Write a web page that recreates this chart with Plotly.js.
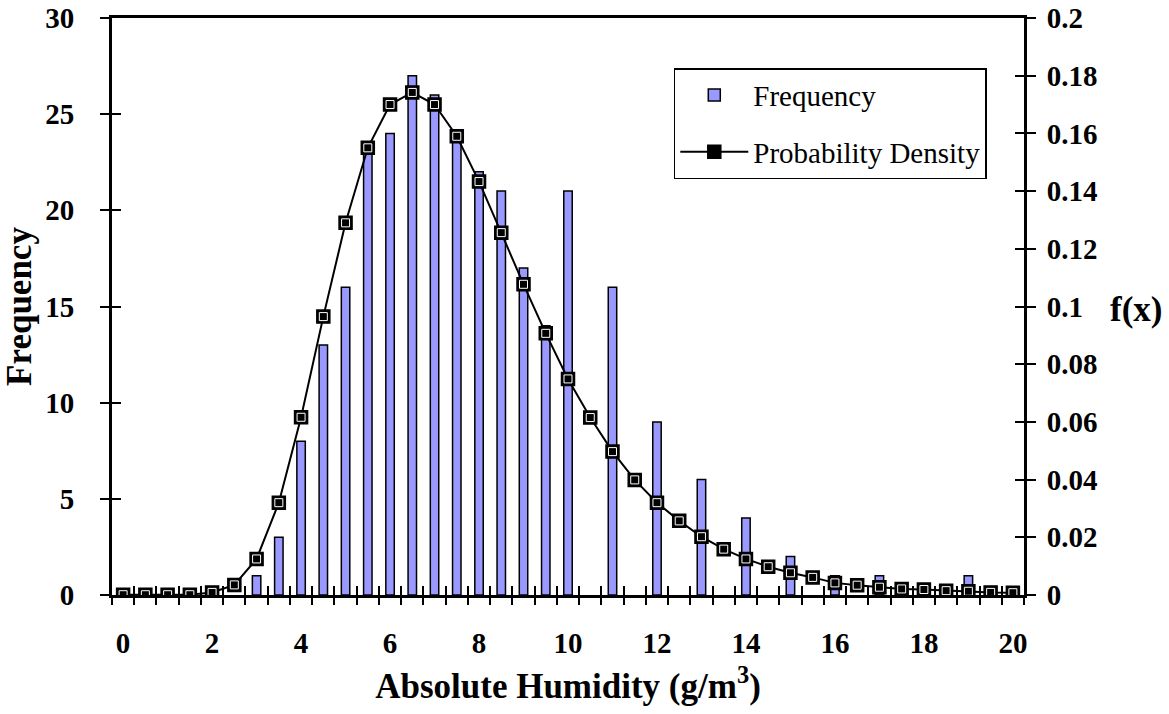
<!DOCTYPE html>
<html>
<head>
<meta charset="utf-8">
<script src="https://cdn.plot.ly/plotly-3.0.1.min.js"></script>
<style>html,body{margin:0;padding:0;background:#fff;}#chart{width:1169px;height:714px;}</style>
</head>
<body>
<div id="chart"></div>
<script>
// ---- data ----
const humidity = [0,0.5,1,1.5,2,2.5,3,3.5,4,4.5,5,5.5,6,6.5,7,7.5,8,8.5,9,9.5,10,10.5,11,11.5,12,12.5,13,13.5,14,14.5,15,15.5,16,16.5,17,17.5,18,18.5,19,19.5,20];
const frequency = [0,0,0,0,0,0,1,3,8,13,16,23,24,27,26,24,22,21,17,14,21,0,16,0,9,0,6,0,4,0,2,0,1,0,1,0,0,0,1,0,0];
const density = [0.0001,0.0001,0.0001,0.0001,0.0009,0.0035,0.0125,0.032,0.0616,0.0965,0.129,0.155,0.170,0.1742,0.170,0.159,0.1433,0.1256,0.1077,0.0907,0.0749,0.0615,0.0497,0.0399,0.032,0.0257,0.0202,0.0159,0.0125,0.0098,0.0077,0.0061,0.0042,0.0034,0.0027,0.0021,0.0019,0.0015,0.0013,0.0009,0.0008];
const xTickVals = [0,2,4,6,8,10,12,14,16,18,20];
const xTickText = ['0','2','4','6','8','10','12','14','16','18','20'];
const xBoundaryTicks = [-0.25,0.25,0.75,1.25,1.75,2.25,2.75,3.25,3.75,4.25,4.75,5.25,5.75,6.25,6.75,7.25,7.75,8.25,8.75,9.25,9.75,10.25,10.75,11.25,11.75,12.25,12.75,13.25,13.75,14.25,14.75,15.25,15.75,16.25,16.75,17.25,17.75,18.25,18.75,19.25,19.75,20.25];
const yLeftTickVals = [0,5,10,15,20,25,30];
const yLeftTickText = ['0','5','10','15','20','25','30'];
const yRightTickVals = [0,0.02,0.04,0.06,0.08,0.1,0.12,0.14,0.16,0.18,0.2];
const yRightTickText = ['0','0.02','0.04','0.06','0.08','0.1','0.12','0.14','0.16','0.18','0.2'];

const SERIF = '"Liberation Serif", "Times New Roman", serif';
const tickFont = {family: SERIF, size: 29, color: '#000', weight: 'bold'};
const titleFont = {family: SERIF, size: 35, color: '#000', weight: 'bold'};

const traces = [
  {
    type: 'bar', name: 'Frequency', x: humidity,
    // empty classes are left undrawn (no outline stub on the axis)
    y: frequency.map(v => v > 0 ? v : null),
    xaxis: 'x', yaxis: 'y', width: 0.19,
    marker: {color: '#9999FF', line: {color: '#000', width: 1.5}},
    legendgroup: 'a', hoverinfo: 'skip'
  },
  {
    type: 'scatter', mode: 'lines+markers', name: 'Probability Density',
    x: humidity, y: density, xaxis: 'x', yaxis: 'y2',
    line: {color: '#000', width: 2},
    marker: {symbol: 'square', size: 13, color: '#000', line: {color: '#000', width: 1.5}},
    legendgroup: 'b', hoverinfo: 'skip'
  },
  // white inner highlight of the square markers (also hosts the tick-only overlay axes x2/y4)
  {
    type: 'scatter', mode: 'markers', showlegend: false, hoverinfo: 'skip',
    x: humidity, y: density, xaxis: 'x2', yaxis: 'y4',
    marker: {symbol: 'square-open', size: 8, color: '#fff', line: {color: '#fff', width: 1}}
  },
  // invisible carrier so the tick-only overlay axes x3/y3 are drawn
  {
    type: 'scatter', mode: 'none', showlegend: false, hoverinfo: 'skip',
    x: humidity, y: frequency, xaxis: 'x3', yaxis: 'y3'
  }
];

const baseOverlay = {showgrid: false, zeroline: false, showline: false, showticklabels: false, fixedrange: true};

const layout = {
  width: 1169, height: 714,
  margin: {l: 112, r: 145, t: 18, b: 119, pad: 0},
  paper_bgcolor: '#fff', plot_bgcolor: '#fff',
  showlegend: true,
  bargap: 0,
  xaxis: {
    range: [-0.25, 20.25], tickmode: 'array', tickvals: xTickVals, ticktext: xTickText,
    ticks: '', showgrid: false, zeroline: false,
    showline: true, linewidth: 3, linecolor: '#000', mirror: true,
    tickfont: tickFont, ticklabelstandoff: 20,
    title: {text: 'Absolute Humidity (g/m<sup>3</sup>)', font: titleFont, standoff: 16}
  },
  xaxis2: Object.assign({}, baseOverlay, {
    overlaying: 'x', anchor: 'y', side: 'bottom', range: [-0.25, 20.25],
    tickmode: 'array', tickvals: xBoundaryTicks, ticks: 'outside', ticklen: 9, tickwidth: 2, tickcolor: '#000'
  }),
  xaxis3: Object.assign({}, baseOverlay, {
    overlaying: 'x', anchor: 'y', side: 'bottom', range: [-0.25, 20.25],
    tickmode: 'array', tickvals: xBoundaryTicks, ticks: 'inside', ticklen: 9, tickwidth: 2, tickcolor: '#000'
  }),
  yaxis: {
    range: [0, 30], tickmode: 'array', tickvals: yLeftTickVals, ticktext: yLeftTickText,
    ticks: 'outside', ticklen: 9, tickwidth: 2, tickcolor: '#000',
    showgrid: false, zeroline: false, showline: true, linewidth: 3, linecolor: '#000',
    tickfont: tickFont, ticklabelstandoff: 20,
    title: {text: 'Frequency', font: titleFont, standoff: 8}
  },
  yaxis3: Object.assign({}, baseOverlay, {
    overlaying: 'y', anchor: 'x3', side: 'left', range: [0, 30],
    tickmode: 'array', tickvals: yLeftTickVals, ticks: 'inside', ticklen: 9, tickwidth: 2, tickcolor: '#000'
  }),
  yaxis2: {
    overlaying: 'y', side: 'right', anchor: 'x', range: [0, 0.2],
    tickmode: 'array', tickvals: yRightTickVals, ticktext: yRightTickText,
    ticks: 'outside', ticklen: 9, tickwidth: 2, tickcolor: '#000',
    showgrid: false, zeroline: false, showline: true, linewidth: 3, linecolor: '#000',
    tickfont: tickFont, ticklabelstandoff: 5
  },
  yaxis4: Object.assign({}, baseOverlay, {
    overlaying: 'y', anchor: 'x2', side: 'right', range: [0, 0.2],
    tickmode: 'array', tickvals: yRightTickVals, ticks: 'inside', ticklen: 9, tickwidth: 2, tickcolor: '#000'
  }),
  legend: {
    x: 0.616, y: 0.913, xanchor: 'left', yanchor: 'top',
    bgcolor: '#fff', bordercolor: '#000', borderwidth: 1.5,
    font: {family: SERIF, size: 29, color: '#000'},
    traceorder: 'grouped', tracegroupgap: 16, itemwidth: 68
  },
  annotations: [
    {text: 'f(x)', xref: 'paper', yref: 'paper', x: 1.123, y: 0.494, xanchor: 'center', yanchor: 'middle',
     showarrow: false, font: titleFont}
  ]
};

Plotly.newPlot('chart', traces, layout, {displayModeBar: false, staticPlot: true});
</script>
</body>
</html>
